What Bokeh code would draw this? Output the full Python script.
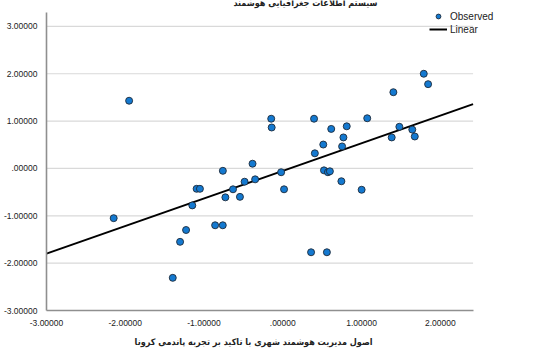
from bokeh.plotting import figure
from bokeh.models import FixedTicker, Legend, LegendItem, Range1d, Title
from bokeh.core.properties import value
from bokeh.embed import file_html
from bokeh.resources import INLINE

# Observed values (x: smart urban management principles, y: smart GIS)
x_vals = [-1.951, -0.147, -0.141, 0.397, 0.615, 0.812, 1.072, 1.404, 1.790, 1.845,
          1.480, 1.644, 1.676, 1.383, 0.770, 0.514, 0.753, 0.407, 0.523, 0.573,
          0.598, -0.384, -0.761, -0.021, -1.094, -1.052, -0.485, -0.351, -0.632, -0.729,
          -0.544, 0.016, -1.149, -2.147, -0.859, -0.762, -1.228, -1.304, -1.397, 0.744,
          1.001, 0.359, 0.560]
y_vals = [1.43, 1.05, 0.865, 1.05, 0.835, 0.89, 1.06, 1.61, 2.00, 1.78,
          0.88, 0.82, 0.675, 0.655, 0.655, 0.505, 0.465, 0.32, -0.04, -0.08,
          -0.06, 0.10, -0.05, -0.08, -0.43, -0.43, -0.28, -0.23, -0.44, -0.61,
          -0.60, -0.44, -0.78, -1.05, -1.20, -1.20, -1.30, -1.55, -2.31, -0.27,
          -0.45, -1.77, -1.77]

# Linear fit
fit_slope = 0.583
fit_intercept = -0.051

# axis extents of the plotted area
x_min, x_max = -3.0, 2.416
y_min, y_max = -3.0, 3.3
fit_x = [x_min, x_max]
fit_y = [fit_intercept + fit_slope * v for v in fit_x]

x_ticks = [-3, -2, -1, 0, 1, 2]
x_tick_labels = ["-3.00000", "-2.00000", "-1.00000", ".00000", "1.00000", "2.00000"]
y_ticks = [-3, -2, -1, 0, 1, 2, 3]
y_tick_labels = ["-3.00000", "-2.00000", "-1.00000", ".00000", "1.00000", "2.00000", "3.00000"]
grid_ticks = [-2, -1, 0, 1, 2, 3]

chart_title = "سیستم اطلاعات جغرافیایی هوشمند"
x_title = "اصول مدیریت هوشمند شهری با تاکید بر تجربه پاندمی کرونا"

LAT = "Liberation Sans"
ARA = "DejaVu Sans Condensed, DejaVu Sans"

# the frame reaches the top and right edges so that legend and title are not clipped
p = figure(width=540, height=352, output_backend="svg", toolbar_location=None,
           x_range=Range1d(x_min, 3.272), y_range=Range1d(y_min, 3.547),
           min_border_left=42, min_border_right=0, min_border_top=0,
           min_border_bottom=41)
p.outline_line_color = None
p.background_fill_color = "white"
p.border_fill_color = "white"
p.xgrid.grid_line_color = None
p.ygrid.grid_line_color = None

for ax in (p.xaxis[0], p.yaxis[0]):
    ax.axis_line_color = "#8f8f8f"
    ax.axis_line_width = 1.6
    ax.major_tick_line_color = None
    ax.minor_tick_line_color = None
    ax.major_label_text_font = LAT
    ax.major_label_text_font_size = "8.5px"
    ax.major_label_text_color = "#222222"
    ax.major_label_standoff = 3

p.xaxis[0].bounds = (x_min, x_max)
p.xaxis[0].ticker = FixedTicker(ticks=x_ticks)
p.xaxis[0].major_label_overrides = {t: s for t, s in zip(x_ticks, x_tick_labels)}
p.yaxis[0].bounds = (y_min, y_max)
p.yaxis[0].ticker = FixedTicker(ticks=y_ticks)
p.yaxis[0].major_label_overrides = {t: s for t, s in zip(y_ticks, y_tick_labels)}

# horizontal grid lines, limited to the axis extent
p.segment(x0=[x_min] * len(grid_ticks), x1=[x_max] * len(grid_ticks),
          y0=grid_ticks, y1=grid_ticks, line_color="#d9d9d9", line_width=1.2,
          level="underlay")

line_r = p.line(fit_x, fit_y, line_color="black", line_width=2)
pts_r = p.scatter(x_vals, y_vals, size=7, marker="circle",
                  fill_color="#1479d0", line_color="#1d2a3a", line_width=0.9)

# chart title, cut by the top edge as in the original
p.text(x=[0.287], y=[3.484], text=[chart_title], text_align="center",
       text_baseline="alphabetic", text_font=value(ARA),
       text_font_size="9px", text_font_style="bold", text_color="#222222")

legend = Legend(items=[LegendItem(label="Observed", renderers=[pts_r]),
                       LegendItem(label="Linear", renderers=[line_r])],
                location=(383, 275))
legend.border_line_color = None
legend.background_fill_alpha = 0
legend.padding = 0
legend.margin = 0
legend.spacing = 1
legend.glyph_width = 18
legend.glyph_height = 12
legend.label_height = 12
legend.label_standoff = 3
legend.label_text_font = LAT
legend.label_text_font_size = "10px"
legend.label_text_color = "#222222"
p.add_layout(legend)

p.add_layout(Title(text=x_title, align="right", offset=168, standoff=12,
                   vertical_align="bottom", text_font=ARA,
                   text_font_size="9px", text_font_style="bold",
                   text_color="#222222"), "below")

open("out.html", "w").write(file_html(p, INLINE))
